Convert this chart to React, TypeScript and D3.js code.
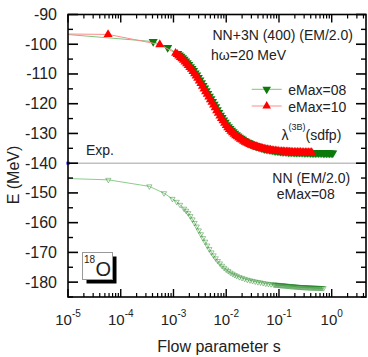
import React from "react";
import * as d3 from "d3";

// ---- data (log10 of flow parameter s, energy E in MeV) ----
const eMax10LogS = [-5.3, -4.24, -3.26, -2.96, -2.93, -2.9, -2.87, -2.84, -2.81, -2.78, -2.75, -2.72, -2.69, -2.66, -2.63, -2.6, -2.57, -2.54, -2.51, -2.48, -2.45, -2.42, -2.39, -2.36, -2.33, -2.3, -2.27, -2.24, -2.21, -2.18, -2.15, -2.12, -2.09, -2.06, -2.03, -2.0, -1.97, -1.94, -1.91, -1.88, -1.85, -1.82, -1.79, -1.76, -1.73, -1.7, -1.67, -1.64, -1.61, -1.58, -1.55, -1.52, -1.49, -1.46, -1.43, -1.4, -1.37, -1.34, -1.31, -1.28, -1.25, -1.22, -1.19, -1.16, -1.13, -1.1, -1.07, -1.04, -1.01, -0.98, -0.95, -0.92, -0.89, -0.86, -0.83, -0.8, -0.77, -0.74, -0.71, -0.68, -0.65, -0.62, -0.59, -0.56, -0.53, -0.5, -0.47, -0.44, -0.41, -0.38];
const eMax10E = [-96.5, -96.7, -100.1, -103.0, -103.4, -103.9, -104.4, -104.8, -105.3, -105.9, -106.5, -107.1, -107.8, -108.4, -109.1, -109.9, -110.6, -111.4, -112.3, -113.2, -114.1, -115.0, -115.9, -116.8, -117.7, -118.6, -119.5, -120.4, -121.3, -122.3, -123.2, -124.1, -124.9, -125.7, -126.5, -127.3, -128.0, -128.6, -129.2, -129.7, -130.2, -130.7, -131.1, -131.5, -131.9, -132.2, -132.6, -132.9, -133.2, -133.4, -133.7, -133.9, -134.1, -134.3, -134.5, -134.6, -134.8, -134.9, -135.05, -135.2, -135.3, -135.4, -135.5, -135.6, -135.7, -135.8, -135.85, -135.9, -136.0, -136.05, -136.1, -136.1, -136.15, -136.2, -136.2, -136.25, -136.25, -136.3, -136.3, -136.3, -136.35, -136.35, -136.35, -136.4, -136.4, -136.4, -136.4, -136.45, -136.45, -136.45];

const eMax08LogS = [-5.3, -3.385, -3.11, -2.92, -2.89, -2.86, -2.83, -2.8, -2.77, -2.74, -2.71, -2.68, -2.65, -2.62, -2.59, -2.56, -2.53, -2.5, -2.47, -2.44, -2.41, -2.38, -2.35, -2.32, -2.29, -2.26, -2.23, -2.2, -2.17, -2.14, -2.11, -2.08, -2.05, -2.02, -1.99, -1.96, -1.93, -1.9, -1.87, -1.84, -1.81, -1.78, -1.75, -1.72, -1.69, -1.66, -1.63, -1.6, -1.57, -1.54, -1.51, -1.48, -1.45, -1.42, -1.39, -1.36, -1.33, -1.3, -1.27, -1.24, -1.21, -1.18, -1.15, -1.12, -1.09, -1.06, -1.03, -1.0, -0.97, -0.94, -0.91, -0.88, -0.85, -0.82, -0.79, -0.76, -0.73, -0.7, -0.67, -0.64, -0.61, -0.58, -0.55, -0.52, -0.49, -0.46, -0.43, -0.4, -0.37, -0.34, -0.31, -0.28, -0.25, -0.22, -0.19, -0.16, -0.13, -0.1, -0.07, -0.04, -0.01, 0.02];
const eMax08E = [-96.3, -99.1, -101.1, -103.2, -103.7, -104.1, -104.6, -105.1, -105.7, -106.3, -106.9, -107.6, -108.2, -108.9, -109.7, -110.4, -111.2, -112.1, -113.0, -113.9, -114.8, -115.7, -116.6, -117.5, -118.4, -119.3, -120.2, -121.1, -122.1, -123.0, -123.9, -124.7, -125.5, -126.3, -127.1, -127.8, -128.4, -129.0, -129.5, -130.0, -130.5, -130.9, -131.3, -131.7, -132.0, -132.4, -132.7, -133.0, -133.2, -133.5, -133.7, -133.9, -134.1, -134.3, -134.5, -134.6, -134.8, -134.95, -135.1, -135.2, -135.3, -135.4, -135.5, -135.6, -135.7, -135.8, -135.85, -135.9, -136.0, -136.05, -136.1, -136.1, -136.15, -136.2, -136.2, -136.25, -136.25, -136.3, -136.3, -136.3, -136.35, -136.35, -136.35, -136.4, -136.4, -136.4, -136.4, -136.45, -136.45, -136.45, -136.5, -136.5, -136.5, -136.5, -136.5, -136.55, -136.55, -136.55, -136.55, -136.6, -136.6, -136.6];

const nnLogS = [-5.3, -4.235, -3.457, -3.18, -3.02, -2.94, -2.875, -2.8, -2.76, -2.72, -2.68, -2.64, -2.6, -2.56, -2.52, -2.48, -2.44, -2.4, -2.36, -2.32, -2.28, -2.24, -2.2, -2.16, -2.12, -2.08, -2.04, -2.0, -1.96, -1.92, -1.88, -1.84, -1.8, -1.75, -1.7, -1.65, -1.6, -1.55, -1.5, -1.45, -1.4, -1.35, -1.3, -1.25, -1.2, -1.15, -1.1, -1.08, -1.06, -1.04, -1.02, -1.0, -0.98, -0.96, -0.94, -0.92, -0.9, -0.88, -0.86, -0.84, -0.82, -0.8, -0.78, -0.76, -0.74, -0.72, -0.7, -0.68, -0.66, -0.64, -0.62, -0.6, -0.58, -0.56, -0.54, -0.52, -0.5, -0.48, -0.46, -0.44, -0.42, -0.4, -0.38, -0.36, -0.34, -0.32, -0.3, -0.28, -0.26, -0.24, -0.22, -0.2, -0.18, -0.155];
const nnE = [-145.0, -145.6, -147.8, -150.1, -152.0, -153.0, -154.0, -155.3, -156.0, -156.8, -157.8, -158.9, -160.1, -161.3, -162.6, -163.9, -165.2, -166.4, -167.7, -168.9, -170.0, -171.0, -172.0, -172.9, -173.7, -174.5, -175.2, -175.8, -176.3, -176.8, -177.2, -177.6, -177.9, -178.3, -178.6, -178.9, -179.2, -179.4, -179.6, -179.8, -180.0, -180.1, -180.3, -180.5, -180.6, -180.7, -180.8, -180.85, -180.9, -180.92, -180.95, -181.0, -181.03, -181.06, -181.1, -181.13, -181.16, -181.2, -181.23, -181.26, -181.3, -181.33, -181.36, -181.4, -181.43, -181.46, -181.5, -181.53, -181.56, -181.6, -181.62, -181.64, -181.66, -181.68, -181.7, -181.72, -181.74, -181.76, -181.78, -181.8, -181.82, -181.84, -181.86, -181.88, -181.9, -181.91, -181.92, -181.94, -181.95, -181.96, -181.97, -181.98, -181.99, -182.0];

const expE = -140;
const yMajorTicks = [-180, -170, -160, -150, -140, -130, -120, -110, -100, -90];
const yMinorTicks = [-185, -175, -165, -155, -145, -135, -125, -115, -105, -95];
const xDecadeExps = [-5, -4, -3, -2, -1, 0];

const FONT = "'Liberation Sans', Arial, Helvetica, sans-serif";

export default function App() {
  const W = 368, H = 357;
  const L = 68, R = 366, T = 14.5, B = 297;
  const x = d3.scaleLog().domain([1e-5, Math.pow(10, 0.65)]).range([L, R]);
  const y = d3.scaleLinear().domain([-185, -90]).range([B, T]);

  const mk = (ls: number[], es: number[]) => ls.map((l, i) => ({ s: Math.pow(10, l), e: es[i] }));
  const red = mk(eMax10LogS, eMax10E);
  const green = mk(eMax08LogS, eMax08E);
  const nn = mk(nnLogS, nnE);

  const line = d3.line<{ s: number; e: number }>().x(d => x(d.s)).y(d => y(d.e));
  const triBig = d3.symbol().type(d3.symbolTriangle).size(36)() as string;
  const triLegend = d3.symbol().type(d3.symbolTriangle).size(32)() as string;
  const triSmall = d3.symbol().type(d3.symbolTriangle).size(12)() as string;

  const xMinor: number[] = [];
  for (let e = -5; e <= 0; e++) for (let k = 2; k <= 9; k++) {
    const v = k * Math.pow(10, e);
    if (v <= Math.pow(10, 0.65)) xMinor.push(v);
  }

  return (
    <svg width={W} height={H} style={{ position: "absolute", left: 0, top: 0, background: "#fff" }} fontFamily={FONT}>
      <defs>
        <clipPath id="plotclip"><rect x={L} y={T} width={R - L} height={B - T} /></clipPath>
      </defs>

      {/* Exp line */}
      <line x1={L} x2={R} y1={y(expE)} y2={y(expE)} stroke="#a0a0a0" strokeWidth={1} />

      <g clipPath="url(#plotclip)">
        {/* NN curve */}
        <path d={line(nn) || ""} fill="none" stroke="#8ccc8c" strokeWidth={1} />
        {nn.map((d, i) => (
          <path key={"n" + i} d={triSmall} transform={`translate(${x(d.s)},${y(d.e)}) rotate(180)`} fill="none" stroke="#268626" strokeOpacity={0.5} strokeWidth={0.9} />
        ))}
        {/* eMax=08 */}
        <path d={line(green) || ""} fill="none" stroke="#7fc47f" strokeWidth={1} />
        {green.map((d, i) => (
          <path key={"g" + i} d={triBig} transform={`translate(${x(d.s)},${y(d.e)}) rotate(180)`} fill="#0b7a0b" />
        ))}
        {/* eMax=10 */}
        <path d={line(red) || ""} fill="none" stroke="#ff8a8a" strokeWidth={1} />
        {red.map((d, i) => (
          <path key={"r" + i} d={triBig} transform={`translate(${x(d.s)},${y(d.e)})`} fill="#ff0000" />
        ))}
      </g>

      {/* blue exp marker */}
      <rect x={L - 1.5} y={y(expE) - 1.5} width={3} height={3} fill="#0000ff" />

      {/* frame */}
      <rect x={L} y={T} width={R - L} height={B - T} fill="none" stroke="#000" strokeWidth={1.6} />

      {/* y ticks */}
      {yMajorTicks.map(v => (
        <g key={"ym" + v}>
          <line x1={L} x2={L + 10} y1={y(v)} y2={y(v)} stroke="#000" strokeWidth={1.6} />
          <line x1={R} x2={R - 10} y1={y(v)} y2={y(v)} stroke="#000" strokeWidth={1.6} />
          <text x={57} y={y(v) + 5.5} fontSize={16} textAnchor="end" fill="#222">{v}</text>
        </g>
      ))}
      {yMinorTicks.map(v => (
        <g key={"yn" + v}>
          <line x1={L} x2={L + 5} y1={y(v)} y2={y(v)} stroke="#000" strokeWidth={1.4} />
          <line x1={R} x2={R - 5} y1={y(v)} y2={y(v)} stroke="#000" strokeWidth={1.4} />
        </g>
      ))}

      {/* x ticks */}
      {xDecadeExps.map(e => {
        const px = x(Math.pow(10, e));
        return (
          <g key={"xm" + e}>
            <line x1={px} x2={px} y1={B} y2={B - 8} stroke="#000" strokeWidth={1.4} />
            <line x1={px} x2={px} y1={T} y2={T + 8} stroke="#000" strokeWidth={1.4} />
            <text x={px} y={324.5} textAnchor="middle" fill="#222">
              <tspan fontSize={15}>10</tspan>
              <tspan fontSize={10} dy={-7.5}>{e}</tspan>
            </text>
          </g>
        );
      })}
      {xMinor.map((v, i) => {
        const px = x(v);
        return (
          <g key={"xn" + i}>
            <line x1={px} x2={px} y1={B} y2={B - 4} stroke="#000" strokeWidth={1.2} />
            <line x1={px} x2={px} y1={T} y2={T + 4} stroke="#000" strokeWidth={1.2} />
          </g>
        );
      })}

      {/* axis labels */}
      <text x={219} y={352} fontSize={16} textAnchor="middle" fill="#222">Flow parameter s</text>
      <text transform="translate(19,175) rotate(-90)" fontSize={16} textAnchor="middle" fill="#222">E (MeV)</text>

      {/* annotations */}
      <text x={212.5} y={40} fontSize={14} fill="#222">NN+3N (400) (EM/2.0)</text>
      <text x={211} y={60} fontSize={14} fill="#222">hω=20 MeV</text>
      <text x={86} y={155} fontSize={14} fill="#222">Exp.</text>
      <text x={272.3} y={182.5} fontSize={14} fill="#222">NN (EM/2.0)</text>
      <text x={276.7} y={198.5} fontSize={14} fill="#222">eMax=08</text>
      <text x={281.5} y={140} fill="#222">
        <tspan fontSize={14}>λ</tspan>
        <tspan fontSize={9} dy={-10}>(3B)</tspan>
        <tspan fontSize={14} dy={10}>(sdfp)</tspan>
      </text>

      {/* legend */}
      <line x1={251.7} x2={281.7} y1={89.3} y2={89.3} stroke="#7fc47f" strokeWidth={1} />
      <path d={triLegend} transform={`translate(266.7,89.3) rotate(180)`} fill="#0b7a0b" />
      <text x={288.3} y={95} fontSize={14} fill="#222">eMax=08</text>
      <line x1={251.7} x2={281.7} y1={106} y2={106} stroke="#ff8a8a" strokeWidth={1} />
      <path d={triLegend} transform={`translate(266.7,106)`} fill="#ff0000" />
      <text x={288.3} y={111.5} fontSize={14} fill="#222">eMax=10</text>

      {/* 18O box */}
      <rect x={86.5} y={256.5} width={30} height={27} fill="#000" />
      <rect x={82.5} y={252.5} width={30} height={27} fill="#fff" stroke="#999" strokeWidth={1} />
      <text x={84} y={263} fontSize={10} fill="#222">18</text>
      <text x={95.5} y={276} fontSize={20} fill="#222">O</text>
    </svg>
  );
}
